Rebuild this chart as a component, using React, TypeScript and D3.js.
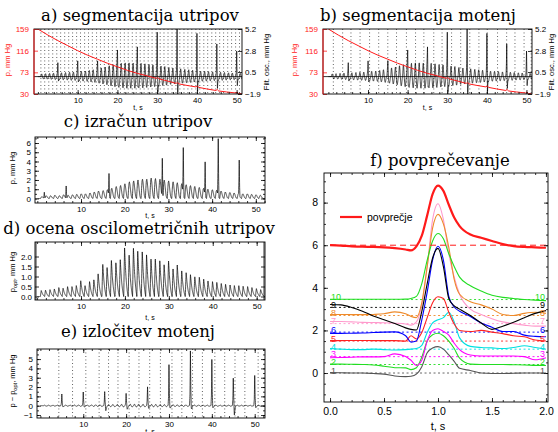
import React, { useEffect, useRef } from 'react';
import * as d3 from 'd3';

// beat onsets (s), shared by the raw recording panels
const beatOnsets = [0.75, 1.72, 2.74, 3.73, 4.75, 5.72, 6.74, 7.75, 8.73, 9.74,
  10.72, 11.75, 12.73, 13.7, 14.76, 15.74, 16.72, 17.75, 18.74, 19.73,
  20.76, 21.74, 22.72, 23.75, 24.73, 25.74, 26.72, 27.75, 28.73, 29.74,
  30.76, 31.72, 32.74, 33.75, 34.73, 35.72, 36.75, 37.74, 38.72, 39.75,
  40.73, 41.74, 42.72, 43.75, 44.73, 45.74, 46.72, 47.75, 48.73, 49.74, 50.72];

// cuff pressure (mm Hg)
const cuffT = [0, 2.5, 5, 7.5, 10, 12.5, 15, 17.5, 20, 22.5, 25, 27.5, 29.8, 30.1, 30.5, 32.5, 34.8, 35.1, 35.5,
  37.5, 39.8, 40.1, 40.5, 42.5, 44.8, 45.1, 45.5, 47.5, 49.8, 50.1, 50.5, 51.3];
const cuffP = [159, 147, 136, 126, 116, 107, 99, 91, 84, 77, 71, 66, 61, 63, 60, 56, 51, 53, 50,
  47, 44, 46, 43, 40, 37, 39, 36, 34, 32, 34, 31, 30.5];

// filtered oscillation amplitude per beat (a, b)
const oscAmp = [0.3, 0.32, 0.35, 0.38, 0.4, 0.42, 0.45, 0.48, 0.5, 0.55,
  0.58, 0.62, 0.68, 0.75, 0.85, 0.95, 1.05, 1.2, 1.3, 1.4,
  1.45, 1.5, 1.5, 1.5, 1.45, 1.45, 1.4, 1.35, 1.3, 1.25,
  1.15, 1.1, 1.0, 0.95, 0.9, 0.85, 0.8, 0.75, 0.7, 0.65,
  0.6, 0.58, 0.55, 0.52, 0.5, 0.48, 0.45, 0.42, 0.4, 0.38, 0.35];
const oscShape = [0, 0.45, 0.9, 1, 0.7, 0.25, -0.2, -0.55, -0.8, -0.85, -0.7, -0.45, -0.2, 0];

// motion artefacts
const artT = [5, 10, 15, 20, 25, 30, 35, 40, 45, 50];
const artAmpA = [1.2, 1.3, 1.0, 1.9, 2.2, 3.9, 5.1, 4.2, 3.2, 2.5];
const artShapeA = [0, 0.3, 1, 0.2, -0.4, -0.15, 0];

// segmentation marks
const marksB = [1.25, 3.6, 5.7, 8.0, 10.4, 12.7, 15.0, 17.2, 19.7, 22.0, 24.1, 26.6, 28.7,
  31.1, 33.4, 35.7, 38.0, 40.1, 42.7, 45.0, 47.1, 49.4, 51.2];
const marksE = [4.3, 7.5, 10.6, 13.7, 15.9, 18.1, 20.7, 23.0, 25.5, 28.0, 30.7, 33.0, 35.5,
  37.8, 40.7, 43.0, 45.4, 47.7, 50.8];

// c) beat calculation
const cAmp = [0.2, 0.3, 0.3, 0.35, 0.3, 0.4, 0.35, 0.4, 0.45, 0.5,
  0.5, 0.6, 0.7, 0.8, 0.85, 0.95, 1.1, 1.3, 1.4, 1.6,
  1.8, 1.9, 2.0, 2.1, 2.1, 2.2, 2.15, 2.1, 2.0, 1.9,
  1.8, 1.7, 1.6, 1.5, 1.4, 1.3, 1.2, 1.1, 1.0, 0.95,
  0.9, 0.8, 0.7, 0.65, 0.6, 0.55, 0.5, 0.5, 0.45, 0.4, 0.35];
const cShape = [0, 0.5, 0.9, 1, 0.85, 0.6, 0.35, 0.15, 0.05, 0];
const cSpikeT = [1.6, 6.6, 16.4, 28.6, 33.4, 38.4, 41.4, 46.2];
const cSpikeAmp = [0.7, 1.4, 2.8, 4.5, 5.7, 4.1, 6.7, 4.3];
const cSpikeShape = [0, 0.4, 1, 0.3, 0];

// d) oscillometric pulses
const dAmp = [0.3, 0.32, 0.35, 0.38, 0.45, 0.42, 0.5, 0.5, 0.55, 0.8,
  0.55, 0.75, 0.84, 1.15, 1.63, 1.47, 1.83, 1.7, 1.87, 2.45,
  2.1, 2.45, 2.3, 2.25, 2.1, 1.9, 1.9, 1.8, 1.6, 1.8,
  1.4, 1.6, 1.3, 1.2, 1.1, 1.0, 0.97, 0.88, 0.79, 0.75,
  0.71, 0.66, 0.62, 0.58, 0.55, 0.55, 0.52, 0.5, 0.45, 0.4, 0.35];
const dShape = [0, 0.55, 1, 0.8, 0.6, 0.45, 0.32, 0.22, 0.14, 0.07, 0.02];

// e) artefact extraction
const eResid = [0.05, 0.05, 0.05, 0.06, 0.06, 0.06, 0.07, 0.07, 0.08, 0.08,
  0.08, 0.09, 0.1, 0.1, 0.12, 0.12, 0.13, 0.14, 0.15, 0.15,
  0.16, 0.16, 0.16, 0.15, 0.15, 0.14, 0.14, 0.13, 0.12, 0.12,
  0.11, 0.1, 0.1, 0.09, 0.09, 0.08, 0.08, 0.08, 0.07, 0.07,
  0.07, 0.06, 0.06, 0.06, 0.06, 0.05, 0.05, 0.05, 0.05, 0.05, 0.05];
const eSpikeAmp = [1.2, 1.4, 1.4, 1.2, 1.9, 4.3, 5.8, 4.9, 2.9, 3.2];
const eDipAmp = [0.1, 0.1, 0.5, 0.3, 0.2, 0.2, 0.3, 0.2, 1.0, 0.2];
const eSpikeShape = [0, 0.2, 1, 0.3, 0];
const eDipShape = [0, -1, -0.6, -0.2, 0];

// f) averaging
const fT = [0, 0.1, 0.2, 0.3, 0.4, 0.5, 0.6, 0.7, 0.75, 0.8, 0.85, 0.9, 0.95, 1.0, 1.05, 1.1, 1.15, 1.2,
  1.3, 1.4, 1.5, 1.6, 1.7, 1.8, 1.9, 2.0];
const fAvg = [6.0, 5.98, 5.95, 5.93, 5.92, 5.9, 5.86, 5.8, 5.76, 5.95, 6.45, 7.4, 8.4, 8.8, 8.55, 7.9, 7.3, 6.9,
  6.5, 6.35, 6.2, 6.05, 5.96, 5.92, 5.9, 5.88];
const fBeats = [
  [0.02, 0.01, 0, 0, -0.02, -0.05, -0.14, -0.17, -0.15, -0.05, 0.3, 0.95, 1.18, 1.24, 1.12, 0.85, 0.55, 0.22, 0.12, 0, -0.02, -0.02, -0.01, 0, 0, 0],
  [0.42, 0.42, 0.41, 0.4, 0.38, 0.32, 0.25, 0.24, 0.16, 0.25, 0.75, 1.5, 1.8, 1.87, 1.75, 1.5, 1.15, 0.7, 0.42, 0.4, 0.4, 0.4, 0.39, 0.38, 0.36, 0.35],
  [0.72, 0.73, 0.74, 0.76, 0.76, 0.77, 0.9, 0.78, 0.6, 0.35, 0.6, 1.5, 2.0, 2.08, 1.95, 1.78, 1.4, 1.1, 0.85, 0.8, 0.8, 0.8, 0.8, 0.77, 0.62, 0.72],
  [1.15, 1.12, 1.1, 1.1, 1.12, 1.1, 1.08, 1.1, 1.12, 1.15, 1.3, 1.9, 2.35, 2.5, 2.6, 2.85, 2.4, 1.65, 1.25, 1.2, 1.18, 1.15, 1.2, 1.28, 1.2, 1.12],
  [1.52, 1.52, 1.53, 1.53, 1.52, 1.52, 1.52, 1.5, 1.75, 1.6, 1.9, 2.6, 3.3, 3.58, 3.5, 2.85, 2.3, 2.0, 1.95, 2.0, 1.92, 1.85, 1.75, 1.7, 1.55, 1.5],
  [1.86, 1.86, 1.87, 1.88, 1.9, 1.92, 1.93, 1.75, 1.45, 1.5, 2.5, 3.8, 5.3, 5.95, 5.3, 3.6, 3.1, 2.9, 2.65, 2.35, 2.15, 1.95, 1.95, 1.78, 1.72, 1.7],
  [2.42, 2.42, 2.4, 2.38, 2.37, 2.36, 2.34, 2.3, 2.25, 2.4, 3.2, 5.0, 7.2, 7.95, 7.2, 5.6, 4.5, 3.7, 3.0, 2.75, 2.55, 2.4, 2.32, 2.25, 2.2, 2.2],
  [2.75, 2.75, 2.74, 2.74, 2.75, 2.78, 2.87, 2.78, 2.66, 2.6, 3.3, 5.0, 6.8, 7.45, 7.0, 5.9, 4.4, 3.7, 3.35, 3.2, 3.0, 2.75, 2.7, 2.8, 2.85, 2.8],
  [3.22, 3.2, 3.08, 2.9, 2.68, 2.5, 2.32, 2.12, 2.05, 2.02, 2.9, 4.2, 5.4, 5.85, 5.0, 3.5, 3.15, 3.0, 2.7, 2.35, 2.05, 2.2, 2.38, 2.6, 2.8, 2.93],
  [3.46, 3.46, 3.46, 3.46, 3.46, 3.46, 3.46, 3.47, 3.5, 3.6, 4.2, 5.3, 6.2, 6.55, 6.3, 5.6, 5.0, 4.5, 4.1, 3.85, 3.65, 3.55, 3.5, 3.45, 3.42, 3.4],
];
const fBase = [0, 0.4, 0.77, 1.12, 1.5, 1.92, 2.32, 2.7, 3.08, 3.45];
const fLabels = ['1', '2', '3', '4', '5', '6', '7', '8', '9', '10'];
const fColors = ['#555555', '#22dd22', '#ff00ff', '#00e0e0', '#ff2020', '#0000ff', '#ff99cc', '#ee8a2a', '#000000', '#22dd22'];

const SANS = "'Liberation Sans', Arial, sans-serif";
const SERIF = "'DejaVu Serif', 'Liberation Serif', serif";
const RED = '#ff1a1a';

function shapeAt(shape: number[], u: number) {
  if (u < 0 || u > 1) return 0;
  const p = u * (shape.length - 1);
  const i = Math.floor(p);
  if (i >= shape.length - 1) return shape[shape.length - 1];
  const f = p - i;
  return shape[i] * (1 - f) + shape[i + 1] * f;
}

function train(t: number, times: number[], amps: number[], shape: number[], dur: number, offset = 0) {
  let s = 0;
  times.forEach((t0, i) => {
    const u = (t - t0 - offset) / dur;
    if (u >= 0 && u <= 1) s += (amps[i] ?? 0) * shapeAt(shape, u);
  });
  return s;
}

function steps(lo: number, hi: number, step: number) {
  const out: number[] = [];
  for (let v = Math.ceil(lo / step - 1e-9) * step; v <= hi + 1e-9; v += step) out.push(+v.toFixed(6));
  return out;
}

function frame(g: any, x: any, y: any, o: any) {
  const [xa, xb] = x.range();
  const [yb, ya] = y.range();
  const fs = o.fs ?? 8;
  const tidy = (s: any, color: string) => {
    s.select('.domain').remove();
    s.attr('font-family', null).attr('font-size', null);
    s.selectAll('line').attr('stroke', color).attr('stroke-width', 0.8);
    s.selectAll('text').attr('fill', color).style('font-family', SANS).style('font-size', `${fs}px`);
  };
  const none = () => '';
  const xMinor = steps(x.domain()[0], x.domain()[1], o.xMinor);
  const yMinor = steps(y.domain()[0], y.domain()[1], o.yMinor);
  g.append('g').attr('transform', `translate(0,${yb})`)
    .call(d3.axisBottom(x).tickValues(xMinor).tickSize(-2).tickSizeOuter(0).tickFormat(none)).call((s: any) => tidy(s, 'black'));
  g.append('g').attr('transform', `translate(0,${yb})`)
    .call(d3.axisBottom(x).tickValues(o.xTicks).tickSize(-4).tickSizeOuter(0).tickPadding(o.xPad ?? 3).tickFormat(o.xFmt ?? d3.format('d')))
    .call((s: any) => tidy(s, 'black'));
  if (o.top !== false) {
    g.append('g').attr('transform', `translate(0,${ya})`)
      .call(d3.axisTop(x).tickValues(xMinor).tickSize(-2).tickSizeOuter(0).tickFormat(none)).call((s: any) => tidy(s, 'black'));
    g.append('g').attr('transform', `translate(0,${ya})`)
      .call(d3.axisTop(x).tickValues(o.xTicks).tickSize(-4).tickSizeOuter(0).tickFormat(none)).call((s: any) => tidy(s, 'black'));
  }
  const lc = o.leftColor ?? 'black';
  g.append('g').attr('transform', `translate(${xa},0)`)
    .call(d3.axisLeft(y).tickValues(yMinor).tickSize(-2).tickSizeOuter(0).tickFormat(none)).call((s: any) => tidy(s, lc));
  g.append('g').attr('transform', `translate(${xa},0)`)
    .call(d3.axisLeft(y).tickValues(o.yTicks).tickSize(-4).tickSizeOuter(0).tickPadding(o.yPad ?? 3).tickFormat(o.yFmt ?? d3.format('d')))
    .call((s: any) => tidy(s, lc));
  if (o.yRight) {
    g.append('g').attr('transform', `translate(${xb},0)`)
      .call(d3.axisRight(o.yRight).tickValues(o.yRightTicks).tickSize(-4).tickSizeOuter(0).tickPadding(3).tickFormat(d3.format('.1f')))
      .call((s: any) => tidy(s, 'black'));
  } else {
    g.append('g').attr('transform', `translate(${xb},0)`)
      .call(d3.axisRight(y).tickValues(yMinor).tickSize(-2).tickSizeOuter(0).tickFormat(none)).call((s: any) => tidy(s, 'black'));
    g.append('g').attr('transform', `translate(${xb},0)`)
      .call(d3.axisRight(y).tickValues(o.yTicks).tickSize(-4).tickSizeOuter(0).tickFormat(none)).call((s: any) => tidy(s, 'black'));
  }
  g.append('rect').attr('x', xa).attr('y', ya).attr('width', xb - xa).attr('height', yb - ya)
    .attr('fill', 'none').attr('stroke', 'black').attr('stroke-width', 0.9);
  if (o.leftColor) {
    g.append('line').attr('x1', xa).attr('x2', xa).attr('y1', ya).attr('y2', yb).attr('stroke', lc).attr('stroke-width', 1);
  }
}

function txt(g: any, x: number, y: number, s: string, fs: number, family = SANS, anchor = 'middle') {
  return g.append('text').attr('x', x).attr('y', y).attr('text-anchor', anchor)
    .style('font-family', family).style('font-size', `${fs}px`).text(s);
}

function title(g: any, text: string, x: number, y: number) {
  txt(g, x, y, text, 16.5, SERIF);
}

function vlabel(g: any, x: number, y: number, parts: [string, boolean][], color = 'black', fs = 7.5) {
  const t = g.append('text').attr('transform', `translate(${x},${y}) rotate(-90)`).attr('text-anchor', 'middle')
    .style('font-family', SANS).style('font-size', `${fs}px`).attr('fill', color);
  parts.forEach(([s, sub], i) => {
    const sp = t.append('tspan').text(s);
    if (sub) sp.style('font-size', `${fs * 0.75}px`).attr('dy', 2);
    else if (i > 0) sp.attr('dy', -2);
  });
}

function clip(svg: any, id: string, x: any, y: any) {
  const [xa, xb] = x.range();
  const [yb, ya] = y.range();
  svg.append('clipPath').attr('id', id).append('rect').attr('x', xa).attr('y', ya).attr('width', xb - xa).attr('height', yb - ya);
  return svg.append('g').attr('clip-path', `url(#${id})`);
}

function sample(x: any, fn: (t: number) => number) {
  const [t0, t1] = x.domain();
  return d3.range(Math.max(t0, 0), t1, 0.02).map((t) => [t, fn(t)] as [number, number]);
}

function dotted(g: any, x: any, marks: number[], ya: number, yb: number) {
  marks.forEach((m) => {
    g.append('line').attr('x1', x(m)).attr('x2', x(m)).attr('y1', ya).attr('y2', yb)
      .attr('stroke', '#222').attr('stroke-width', 0.8).attr('stroke-dasharray', '0.9,2.6');
  });
}

const oscSignal = (t: number) =>
  train(t, beatOnsets, oscAmp, oscShape, 0.96) + train(t, artT, artAmpA, artShapeA, 0.45, -0.13);

function rawPanel(svg: any, id: string, box: number[], tDomain: number[], marks: number[], ttl: string, tx: number, labX: number[]) {
  const [xa, xb, ya, yb] = box;
  const x = d3.scaleLinear().domain(tDomain).range([xa, xb]);
  const yP = d3.scaleLinear().domain([30, 159]).range([yb, ya]);
  const yO = d3.scaleLinear().domain([-1.9, 5.2]).range([yb, ya]);
  title(svg, ttl, tx, 21);
  const g = clip(svg, id, x, yP);
  dotted(g, x, marks, ya, yb);
  g.append('line').attr('x1', xa).attr('x2', xb).attr('y1', yO(0)).attr('y2', yO(0)).attr('stroke', 'black').attr('stroke-width', 0.8);
  const pts = sample(x, oscSignal);
  g.append('path').datum(pts).attr('fill', 'none').attr('stroke', 'black').attr('stroke-width', 0.7)
    .attr('d', d3.line().x((d: any) => x(d[0])).y((d: any) => yO(d[1])));
  g.append('path').datum(cuffT.map((t, i) => [t, cuffP[i]])).attr('fill', 'none').attr('stroke', RED).attr('stroke-width', 1)
    .attr('d', d3.line().x((d: any) => x(d[0])).y((d: any) => yP(d[1])));
  frame(svg, x, yP, {
    xTicks: [10, 20, 30, 40, 50], xMinor: 2, xPad: 3, top: false,
    yTicks: [159, 116, 73, 30], yMinor: 1000, yPad: 5, leftColor: RED,
    yRight: yO, yRightTicks: [5.2, 2.8, 0.5, -1.9],
  });
  vlabel(svg, labX[0], 60, [['p, mm Hg', false]], RED);
  vlabel(svg, labX[1], 62, [['Filt. osc., mm Hg', false]]);
  txt(svg, (xa + xb) / 2, 110, 't, s', 7);
}

const App = () => {
  const ref = useRef<SVGSVGElement>(null);

  useEffect(() => {
    const svg = d3.select(ref.current);
    svg.selectAll('*').remove();

    // a) and b)
    rawPanel(svg, 'ca', [34, 242, 29, 94], [-0.98, 51.35], beatOnsets, 'a) segmentacija utripov', 140, [10, 269]);
    rawPanel(svg, 'cb', [323, 532, 29, 94], [-1.36, 51.4], marksB, 'b) segmentacija motenj', 418, [297, 554]);

    // c)
    {
      const x = d3.scaleLinear().domain([-0.53, 52.1]).range([35, 265]);
      const y = d3.scaleLinear().domain([-0.49, 6.65]).range([203, 137]);
      title(svg, 'c) izračun utripov', 138, 127);
      const g = clip(svg, 'cc', x, y);
      const pts = sample(x, (t) => Math.max(
        train(t, beatOnsets, cAmp, cShape, 0.96),
        train(t, cSpikeT, cSpikeAmp, cSpikeShape, 0.35, -0.17)));
      g.append('path').datum(pts).attr('fill', 'none').attr('stroke', 'black').attr('stroke-width', 0.7)
        .attr('d', d3.line().x((d: any) => x(d[0])).y((d: any) => y(d[1])));
      frame(svg, x, y, { xTicks: [10, 20, 30, 40, 50], xMinor: 2, xPad: 3, yTicks: [0, 1, 2, 3, 4, 5, 6], yMinor: 0.5, yPad: 4 });
      vlabel(svg, 15, 168, [['p, mm Hg', false]]);
      txt(svg, 150, 218, 't, s', 7);
    }

    // d)
    {
      const x = d3.scaleLinear().domain([-0.48, 51.9]).range([35, 265]);
      const y = d3.scaleLinear().domain([-0.175, 2.725]).range([300, 242]);
      title(svg, 'd) ocena oscilometričnih utripov', 139, 234);
      const g = clip(svg, 'cd', x, y);
      const pts = sample(x, (t) => train(t, beatOnsets, dAmp, dShape, 0.96));
      g.append('path').datum(pts).attr('fill', 'none').attr('stroke', 'black').attr('stroke-width', 0.7)
        .attr('d', d3.line().x((d: any) => x(d[0])).y((d: any) => y(d[1])));
      frame(svg, x, y, {
        xTicks: [10, 20, 30, 40, 50], xMinor: 2, xPad: 3,
        yTicks: [0, 0.5, 1, 1.5, 2], yMinor: 0.1, yPad: 3, yFmt: d3.format('.1f'),
      });
      vlabel(svg, 15, 272, [['p', false], ['opt', true], [', mm Hg', false]]);
      txt(svg, 150, 320, 't, s', 7);
    }

    // e)
    {
      const x = d3.scaleLinear().domain([-0.79, 52.4]).range([37, 265]);
      const y = d3.scaleLinear().domain([-1.32, 6.08]).range([418, 349]);
      title(svg, 'e) izločitev motenj', 138, 337);
      const g = clip(svg, 'ce', x, y);
      dotted(g, x, marksE, 349, 418);
      const pts = sample(x, (t) =>
        train(t, beatOnsets, eResid, oscShape, 0.96) +
        train(t, artT, eSpikeAmp, eSpikeShape, 0.4, -0.2) +
        train(t, artT, eDipAmp, eDipShape, 0.4, 0.15));
      g.append('path').datum(pts).attr('fill', 'none').attr('stroke', 'black').attr('stroke-width', 0.7)
        .attr('d', d3.line().x((d: any) => x(d[0])).y((d: any) => y(d[1])));
      frame(svg, x, y, {
        xTicks: [10, 20, 30, 40, 50], xMinor: 2, xPad: 3,
        yTicks: [-1, 0, 1, 2, 3, 4, 5], yMinor: 0.5, yPad: 4, yFmt: (v: number) => (v < 0 ? '−' + Math.abs(v) : String(v)),
      });
      vlabel(svg, 15, 381, [['p − p', false], ['opt', true], [', mm Hg', false]]);
      txt(svg, 150, 434, 't, s', 7);
    }

    // f)
    {
      const x = d3.scaleLinear().domain([-0.056, 2.019]).range([324, 548]);
      const y = d3.scaleLinear().domain([-1.36, 9.39]).range([402, 173]);
      title(svg, 'f) povprečevanje', 440, 166);
      const g = clip(svg, 'cf', x, y);
      const line = d3.line<number>().x((_, i) => x(fT[i])).y((d) => y(d)).curve(d3.curveMonotoneX);
      fBase.forEach((b, k) => {
        g.append('line').attr('x1', x(0)).attr('x2', x(2)).attr('y1', y(b)).attr('y2', y(b))
          .attr('stroke', fColors[k]).attr('stroke-width', 0.9).attr('stroke-dasharray', '2,2.5');
      });
      fBeats.forEach((vals, k) => {
        g.append('path').datum(vals).attr('fill', 'none').attr('stroke', fColors[k]).attr('stroke-width', 1.1).attr('d', line);
      });
      g.append('path').datum(fAvg).attr('fill', 'none').attr('stroke', RED).attr('stroke-width', 2.2).attr('d', line);
      g.append('line').attr('x1', x(0)).attr('x2', x(2)).attr('y1', y(6)).attr('y2', y(6))
        .attr('stroke', RED).attr('stroke-width', 1).attr('stroke-dasharray', '6,4');
      fBase.forEach((b, k) => {
        ([[x(0) + 1, 'start'], [x(2) - 1, 'end']] as [number, string][]).forEach(([px, anchor]) => {
          txt(svg, px, y(b) + 0.5, fLabels[k], 9, SANS, anchor).attr('fill', fColors[k]);
        });
      });
      frame(svg, x, y, {
        xTicks: [0, 0.5, 1, 1.5, 2], xMinor: 0.1, xPad: 6, xFmt: d3.format('.1f'),
        yTicks: [0, 2, 4, 6, 8], yMinor: 0.5, yPad: 6, fs: 10.5,
      });
      txt(svg, 438, 430, 't, s', 11);
      svg.append('line').attr('x1', 340).attr('x2', 362).attr('y1', 217).attr('y2', 217).attr('stroke', RED).attr('stroke-width', 2.2);
      txt(svg, 367, 217, 'povprečje', 10.5, SANS, 'start').attr('dy', '0.35em');
    }
  }, []);

  return (
    <svg ref={ref} width={558} height={432} style={{ position: 'absolute', left: 0, top: 0, background: 'white' }} />
  );
};

export default App;
